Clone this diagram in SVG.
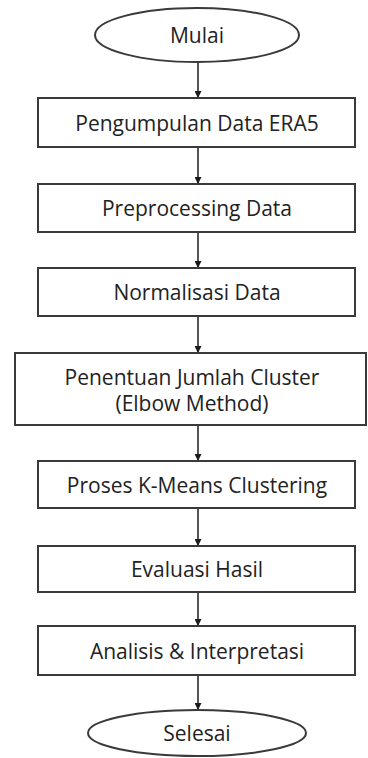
<svg xmlns="http://www.w3.org/2000/svg" width="368" height="758" viewBox="0 0 368 758">
  <style>
    .shape { fill: #ffffff; stroke: #3a3a3a; stroke-width: 2; }
    .label { font-family: "Open Sans", "Noto Sans", sans-serif; font-size: 21px; fill: #222222; text-anchor: middle; dominant-baseline: central; }
    .flow { stroke: #2a2a2a; stroke-width: 1.6; fill: none; marker-end: url(#head); }
  </style>
  <defs>
    <marker id="head" viewBox="0 0 10 10" refX="10" refY="5" markerWidth="7" markerHeight="7" markerUnits="userSpaceOnUse" orient="auto">
      <path d="M0,0 L10,5 L0,10 z" fill="#1a1a1a"/>
    </marker>
  </defs>
  <rect width="368" height="758" fill="#ffffff"/>

  <!-- vertical flow arrows between consecutive steps -->
  <g id="connectors">
    <line class="flow" x1="198" y1="62" x2="198" y2="98"/>
    <line class="flow" x1="198" y1="147" x2="198" y2="184"/>
    <line class="flow" x1="198" y1="232" x2="198" y2="268"/>
    <line class="flow" x1="198" y1="316" x2="198" y2="353"/>
    <line class="flow" x1="198" y1="425" x2="198" y2="461"/>
    <line class="flow" x1="198" y1="508" x2="198" y2="546"/>
    <line class="flow" x1="198" y1="592" x2="198" y2="626"/>
    <line class="flow" x1="198" y1="675" x2="198" y2="710"/>
  </g>

  <g id="mulai">
    <ellipse class="shape" cx="197" cy="35" rx="102" ry="27"/>
    <text class="label" x="197" y="35">Mulai</text>
  </g>
  <g id="pengumpulan">
    <rect class="shape" x="38" y="98" width="317" height="49"/>
    <text class="label" x="197" y="123">Pengumpulan Data ERA5</text>
  </g>
  <g id="preprocessing">
    <rect class="shape" x="38" y="184" width="317" height="48"/>
    <text class="label" x="197" y="208">Preprocessing Data</text>
  </g>
  <g id="normalisasi">
    <rect class="shape" x="38" y="268" width="317" height="48"/>
    <text class="label" x="197" y="292">Normalisasi Data</text>
  </g>
  <g id="penentuan">
    <rect class="shape" x="15" y="353" width="351" height="72"/>
    <text class="label" x="192" y="377">Penentuan Jumlah Cluster</text>
    <text class="label" x="192" y="403">(Elbow Method)</text>
  </g>
  <g id="kmeans">
    <rect class="shape" x="38" y="461" width="317" height="47"/>
    <text class="label" x="197" y="485">Proses K-Means Clustering</text>
  </g>
  <g id="evaluasi">
    <rect class="shape" x="38" y="546" width="317" height="46"/>
    <text class="label" x="197" y="569">Evaluasi Hasil</text>
  </g>
  <g id="analisis">
    <rect class="shape" x="38" y="626" width="317" height="49"/>
    <text class="label" x="197" y="651">Analisis &amp; Interpretasi</text>
  </g>
  <g id="selesai">
    <ellipse class="shape" cx="197" cy="733" rx="109" ry="23"/>
    <text class="label" x="197" y="733">Selesai</text>
  </g>
</svg>
